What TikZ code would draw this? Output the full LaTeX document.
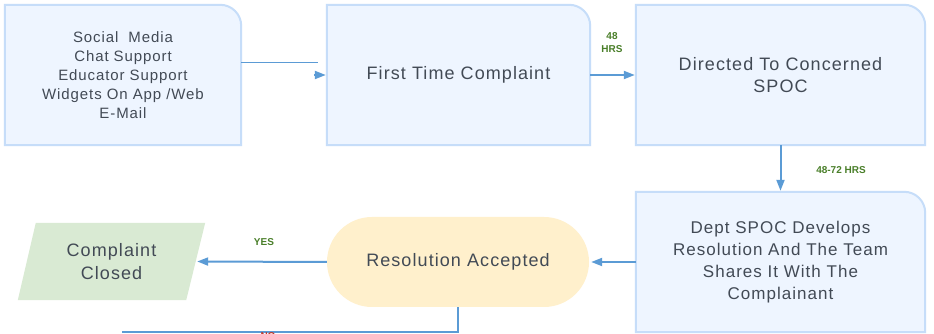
\documentclass[tikz,border=0pt]{standalone}
\usepackage{fontspec}
\setmainfont{Liberation Sans}
\newfontfamily\spaced[LetterSpace=6]{Liberation Sans}
\usetikzlibrary{arrows.meta,calc,backgrounds}
\definecolor{cardfill}{HTML}{EEF5FF}
\definecolor{cardline}{HTML}{C6DDF9}
\definecolor{arrowblue}{HTML}{5B9BD5}
\definecolor{txt}{HTML}{424A55}
\definecolor{lblgreen}{HTML}{4A7F2A}
\definecolor{nored}{HTML}{C0392B}
\definecolor{yellowfill}{HTML}{FFF0CC}
\definecolor{greenfill}{HTML}{D9EAD3}
\tikzset{
  box/.style={inner sep=0pt, text=txt, align=center, font=\spaced\fontsize{18}{22}\selectfont},
  smallbox/.style={box, font=\spaced\fontsize{15}{19}\selectfont},
  arr/.style={draw=arrowblue, line width=2pt, -{Triangle[length=11pt,width=8pt]}},
  thinline/.style={draw=arrowblue, line width=1pt},
  plainline/.style={draw=arrowblue, line width=2pt},
  lbl/.style={text=lblgreen, font=\bfseries\fontsize{10}{13}\selectfont, align=center, inner sep=0pt},
  cardborder/.style={draw=cardline, fill=cardfill, line width=2pt},
}
\newcommand{\cardshape}[1]{%
  \draw[cardborder] (#1.south west) -- (#1.north west) -- ($(#1.north east)+(-21,0)$)
    arc[start angle=90, end angle=0, radius=21pt] -- (#1.south east) -- cycle;}
\begin{document}
\begin{tikzpicture}[x=1pt,y=1pt]
\useasboundingbox (0,0) rectangle (934,334);
\clip (0,0) rectangle (934,334);
% nodes
\node[smallbox, minimum width=236pt, minimum height=140pt] (b1) at (123,259)
  {Social\ \ Media\\Chat Support\\Educator Support\\Widgets On App /Web\\E-Mail};
\node[box, minimum width=263pt, minimum height=140pt] (b2) at (458.5,259) {First Time Complaint};
\node[box, minimum width=289pt, minimum height=140pt] (b3) at (780.5,259) {Directed To Concerned\\SPOC};
\node[box, font=\spaced\fontsize{17}{22}\selectfont, minimum width=289pt, minimum height=140pt] (b4) at (780.5,72)
  {Dept SPOC Develops\\Resolution And The Team\\Shares It With The\\Complainant};
\node[box, fill=yellowfill, rounded corners=45pt, minimum width=262pt, minimum height=90pt] (ra) at (458,72) {Resolution Accepted};
\node[box, font=\spaced\fontsize{18}{23}\selectfont, minimum width=187pt, minimum height=77pt] (cc) at (111.5,72.5) {Complaint\\Closed};
\begin{pgfonlayer}{background}
  \fill[white] (0,0) rectangle (934,334);
  \cardshape{b1}
  \cardshape{b2}
  \cardshape{b3}
  \cardshape{b4}
  \fill[greenfill] (cc.south west) -- ([xshift=18pt]cc.north west) -- (cc.north east) -- ([xshift=-19pt]cc.south east) -- cycle;
\end{pgfonlayer}
% connectors
\draw[thinline] ([yshift=12pt]b1.east) -- ([xshift=-9pt,yshift=12pt]b2.west);
\draw[arr] ([xshift=-13pt]b2.west) -- ([xshift=-1pt]b2.west);
\draw[arr] (b2.east) -- ([xshift=-1pt]b3.west);
\draw[arr] (b3.south) -- ([yshift=1pt]b4.north);
\draw[arr] (b4.west) -- ([xshift=2pt]ra.east);
\draw[arr] (ra.west) -- ([xshift=-8pt]cc.east);
\coordinate (noend) at (122,2);
\draw[plainline] (ra.south) |- (noend);
% labels
\node[lbl] (l48) at (612,291) {48\\HRS};
\node[lbl] (l4872) at (841,164) {48-72 HRS};
\node[lbl] (lyes) at (264,92) {YES};
\node[lbl, text=nored, anchor=north] (lno) at (268,2) {NO};
\end{tikzpicture}
\end{document}
